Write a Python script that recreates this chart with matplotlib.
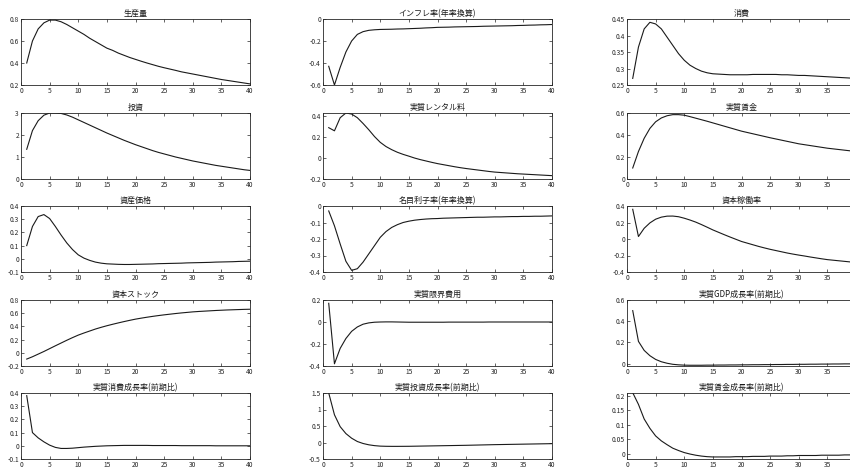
import matplotlib
matplotlib.use("Agg")
import matplotlib.pyplot as plt
from matplotlib.ticker import FuncFormatter, MultipleLocator
import numpy as np

plt.rcParams['font.family'] = ['Noto Sans CJK JP', 'DejaVu Sans']

periods = list(range(1, 41))

titles = ["生産量", "インフレ率(年率換算)", "消費",
          "投資", "実質レンタル料", "実質賃金",
          "資産価格", "名目利子率(年率換算)", "資本稼働率",
          "資本ストック", "実質限界費用", "実質GDP成長率(前期比)",
          "実質消費成長率(前期比)", "実質投資成長率(前期比)", "実質賃金成長率(前期比)"]

output = [0.40, 0.60, 0.71, 0.765, 0.79, 0.79, 0.775, 0.75, 0.72, 0.69,
          0.66, 0.625, 0.595, 0.565, 0.535, 0.515, 0.49, 0.47, 0.45, 0.433,
          0.416, 0.40, 0.385, 0.37, 0.357, 0.345, 0.333, 0.32, 0.31, 0.30,
          0.29, 0.28, 0.27, 0.26, 0.25, 0.242, 0.234, 0.226, 0.218, 0.21]
inflation = [-0.43, -0.60, -0.44, -0.30, -0.20, -0.14, -0.115, -0.103, -0.098, -0.095,
             -0.094, -0.093, -0.091, -0.090, -0.088, -0.086, -0.084, -0.081, -0.079, -0.076,
             -0.075, -0.074, -0.072, -0.071, -0.070, -0.069, -0.068, -0.066, -0.065, -0.064,
             -0.063, -0.062, -0.061, -0.059, -0.058, -0.056, -0.055, -0.053, -0.052, -0.050]
consumption = [0.27, 0.365, 0.42, 0.44, 0.435, 0.42, 0.395, 0.37, 0.345, 0.325,
               0.31, 0.30, 0.292, 0.287, 0.284, 0.283, 0.282, 0.281, 0.281, 0.281,
               0.281, 0.282, 0.282, 0.282, 0.282, 0.282, 0.281, 0.281, 0.280, 0.279,
               0.279, 0.278, 0.277, 0.276, 0.275, 0.274, 0.273, 0.272, 0.271, 0.270]
investment = [1.35, 2.20, 2.65, 2.90, 3.00, 3.00, 2.98, 2.91, 2.81, 2.69,
              2.57, 2.45, 2.33, 2.21, 2.09, 1.98, 1.87, 1.76, 1.66, 1.56,
              1.47, 1.38, 1.29, 1.21, 1.14, 1.07, 1.00, 0.94, 0.88, 0.82,
              0.77, 0.72, 0.67, 0.62, 0.58, 0.54, 0.50, 0.46, 0.42, 0.39]
rental = [0.29, 0.26, 0.385, 0.43, 0.42, 0.385, 0.33, 0.27, 0.205, 0.15,
          0.11, 0.08, 0.055, 0.035, 0.018, 0.0, -0.015, -0.028, -0.041, -0.053,
          -0.063, -0.073, -0.083, -0.092, -0.100, -0.107, -0.114, -0.121, -0.128, -0.134,
          -0.138, -0.142, -0.146, -0.150, -0.153, -0.156, -0.159, -0.162, -0.165, -0.168]
real_wage = [0.10, 0.25, 0.37, 0.46, 0.52, 0.555, 0.575, 0.585, 0.585, 0.58,
             0.567, 0.553, 0.539, 0.525, 0.51, 0.495, 0.48, 0.465, 0.45, 0.435,
             0.423, 0.411, 0.399, 0.387, 0.375, 0.364, 0.353, 0.342, 0.331, 0.32,
             0.312, 0.304, 0.296, 0.288, 0.28, 0.274, 0.268, 0.262, 0.256, 0.25]
asset_price = [0.10, 0.245, 0.32, 0.335, 0.305, 0.245, 0.18, 0.12, 0.07, 0.03,
               0.005, -0.012, -0.025, -0.033, -0.038, -0.040, -0.042, -0.043, -0.043, -0.042,
               -0.041, -0.040, -0.039, -0.037, -0.036, -0.035, -0.034, -0.033, -0.031, -0.030,
               -0.029, -0.028, -0.027, -0.025, -0.024, -0.023, -0.022, -0.020, -0.019, -0.018]
nominal_rate = [-0.03, -0.12, -0.23, -0.335, -0.39, -0.38, -0.34, -0.29, -0.24, -0.19,
                -0.155, -0.13, -0.113, -0.10, -0.092, -0.086, -0.082, -0.079, -0.077, -0.076,
                -0.074, -0.073, -0.072, -0.071, -0.070, -0.069, -0.068, -0.068, -0.067, -0.066,
                -0.066, -0.065, -0.064, -0.064, -0.063, -0.063, -0.062, -0.062, -0.061, -0.060]
utilization = [0.36, 0.03, 0.13, 0.195, 0.24, 0.265, 0.277, 0.278, 0.27, 0.252,
               0.23, 0.205, 0.175, 0.143, 0.11, 0.081, 0.052, 0.024, -0.003, -0.03,
               -0.05, -0.07, -0.09, -0.108, -0.125, -0.14, -0.155, -0.17, -0.183, -0.195,
               -0.206, -0.218, -0.229, -0.24, -0.25, -0.257, -0.264, -0.271, -0.278, -0.285]
capital = [-0.095, -0.06, -0.02, 0.02, 0.063, 0.106, 0.148, 0.19, 0.23, 0.268,
           0.30, 0.33, 0.36, 0.386, 0.41, 0.432, 0.453, 0.473, 0.492, 0.51,
           0.525, 0.539, 0.552, 0.564, 0.575, 0.585, 0.595, 0.604, 0.612, 0.62,
           0.626, 0.631, 0.636, 0.641, 0.645, 0.649, 0.652, 0.655, 0.658, 0.66]
marginal_cost = [0.17, -0.38, -0.24, -0.15, -0.085, -0.045, -0.02, -0.008, -0.002, 0.0,
                 0.001, 0.001, 0.0, -0.001, -0.002, -0.002, -0.002, -0.002, -0.002, -0.002,
                 -0.002, -0.001, -0.001, -0.001, -0.001, -0.001, -0.001, -0.001, 0.0, 0.0,
                 0.0, 0.0, 0.0, 0.0, 0.0, 0.0, 0.0, 0.0, 0.0, 0.0]
gdp_growth = [0.50, 0.21, 0.125, 0.075, 0.04, 0.018, 0.004, -0.006, -0.011, -0.014,
              -0.015, -0.015, -0.015, -0.014, -0.014, -0.013, -0.013, -0.012, -0.012, -0.011,
              -0.011, -0.010, -0.010, -0.009, -0.009, -0.008, -0.008, -0.007, -0.007, -0.006,
              -0.006, -0.005, -0.005, -0.004, -0.004, -0.003, -0.003, -0.002, -0.002, -0.001]
cons_growth = [0.38, 0.10, 0.06, 0.03, 0.005, -0.012, -0.02, -0.02, -0.018, -0.014,
               -0.01, -0.007, -0.004, -0.002, 0.0, 0.001, 0.002, 0.003, 0.003, 0.003,
               0.003, 0.003, 0.002, 0.002, 0.002, 0.002, 0.002, 0.001, 0.001, 0.001,
               0.001, 0.001, 0.001, 0.0, 0.0, 0.0, 0.0, 0.0, 0.0, 0.0]
inv_growth = [1.50, 0.84, 0.48, 0.27, 0.13, 0.03, -0.03, -0.07, -0.095, -0.11,
              -0.115, -0.117, -0.117, -0.116, -0.115, -0.112, -0.109, -0.106, -0.103, -0.10,
              -0.097, -0.094, -0.091, -0.088, -0.085, -0.081, -0.077, -0.073, -0.069, -0.065,
              -0.062, -0.059, -0.056, -0.053, -0.05, -0.047, -0.044, -0.041, -0.038, -0.035]
wage_growth = [0.21, 0.17, 0.12, 0.088, 0.062, 0.045, 0.032, 0.02, 0.012, 0.005,
               0.0, -0.004, -0.007, -0.009, -0.01, -0.01, -0.01, -0.01, -0.009, -0.009,
               -0.009, -0.008, -0.008, -0.008, -0.007, -0.007, -0.007, -0.006, -0.006, -0.005,
               -0.005, -0.005, -0.005, -0.004, -0.004, -0.004, -0.004, -0.003, -0.003, -0.003]

series = [output, inflation, consumption, investment, rental, real_wage,
          asset_price, nominal_rate, utilization, capital, marginal_cost, gdp_growth,
          cons_growth, inv_growth, wage_growth]

ylims = [(0.2, 0.8), (-0.6, 0.0), (0.25, 0.45),
         (0.0, 3.0), (-0.2, 0.43), (0.0, 0.6),
         (-0.1, 0.4), (-0.4, 0.0), (-0.4, 0.4),
         (-0.2, 0.8), (-0.4, 0.2), (-0.022, 0.6),
         (-0.1, 0.4), (-0.5, 1.5), (-0.017, 0.209)]
ysteps = [0.2, 0.2, 0.05,
          1.0, 0.2, 0.2,
          0.1, 0.1, 0.2,
          0.2, 0.2, 0.2,
          0.1, 0.5, 0.05]

W, H = 850, 468
fig = plt.figure(figsize=(W / 100, H / 100), dpi=100)

col_left = [21, 323, 627]
ax_w = 229
row_bottom = [85, 179, 272, 366, 459]
ax_h = 66

fmt = FuncFormatter(lambda v, p: ('%g' % round(v, 6)))
edge = '#262626'

for i, (vals, title) in enumerate(zip(series, titles)):
    r, c = divmod(i, 3)
    ax = fig.add_axes([col_left[c] / W, 1 - row_bottom[r] / H, ax_w / W, ax_h / H])
    ax.plot(periods, vals, color='#1a1a1a', lw=0.8)
    ax.set_xlim(0, 40)
    ax.set_ylim(*ylims[i])
    ax.xaxis.set_major_locator(MultipleLocator(5))
    ax.yaxis.set_major_locator(MultipleLocator(ysteps[i]))
    ax.yaxis.set_major_formatter(fmt)
    ax.xaxis.set_major_formatter(fmt)
    ax.tick_params(direction='in', length=2, width=0.5, labelsize=4.8,
                   top=True, right=True, colors=edge, pad=1.5)
    for s in ax.spines.values():
        s.set_linewidth(0.6)
        s.set_color(edge)
    ax.set_title(title, fontsize=5.8, pad=2, color='#1a1a1a')

fig.savefig('out.png', dpi=100)
